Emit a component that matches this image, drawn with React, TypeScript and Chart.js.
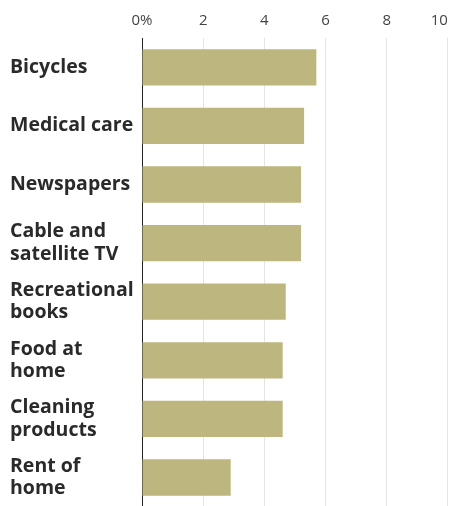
import React, { useEffect, useRef } from "react";
import { Chart, registerables } from "chart.js";

Chart.register(...registerables);

const categories: string[][] = [
  ["Bicycles"],
  ["Medical care"],
  ["Newspapers"],
  ["Cable and", "satellite TV"],
  ["Recreational", "books"],
  ["Food at", "home"],
  ["Cleaning", "products"],
  ["Rent of", "home"],
];
const values: number[] = [5.7, 5.3, 5.2, 5.2, 4.7, 4.6, 4.6, 2.9];
const tickValues: number[] = [0, 2, 4, 6, 8, 10];

const W = 473;
const H = 521;

export default function App() {
  const ref = useRef<HTMLCanvasElement | null>(null);
  useEffect(() => {
    if (!ref.current) return;
    const chart = new Chart(ref.current, {
      type: "bar",
      data: {
        labels: categories,
        datasets: [
          {
            data: values,
            backgroundColor: "#bdb67e",
            borderWidth: 0,
            categoryPercentage: 1,
            barPercentage: 0.62,
          },
        ],
      },
      options: {
        indexAxis: "y",
        animation: false,
        responsive: false,
        maintainAspectRatio: false,
        layout: { padding: { left: 10, right: 14, top: 4, bottom: 0 } },
        plugins: { legend: { display: false }, tooltip: { enabled: false } },
        scales: {
          x: {
            position: "top",
            min: 0,
            max: 10,
            afterBuildTicks: (axis: any) => {
              axis.ticks = tickValues.map((v) => ({ value: v }));
            },
            ticks: {
              padding: 8,
              color: "#444",
              font: { family: "'Open Sans'", size: 15 },
              callback: (v: any) => {
                const n = Number(v);
                if (n === 0) return "0%";
                if (n === 10) return "10\u2007\u2007";
                return String(n);
              },
            },
            grid: {
              drawTicks: false,
              color: (ctx: any) => (ctx.tick && ctx.tick.value === 0 ? "rgba(0,0,0,0)" : "#e4e4e4"),
              lineWidth: 1,
            },
            border: { display: false },
          },
          y: {
            grid: { display: false },
            border: { display: true, color: "#222", width: 1 },
            afterFit: (axis: any) => {
              axis.width = 132;
            },
            ticks: {
              crossAlign: "far",
              color: "#2a2a2a",
              font: { family: "'Open Sans'", size: 19.5, weight: "bold", lineHeight: 1.15 },
            },
          },
        },
      },
    });
    return () => chart.destroy();
  }, []);
  return (
    <div style={{ position: "absolute", left: 0, top: 0, width: 449, height: 506, overflow: "hidden", background: "#fff" }}>
      <canvas ref={ref} width={W} height={H} style={{ width: W, height: H }} />
    </div>
  );
}
